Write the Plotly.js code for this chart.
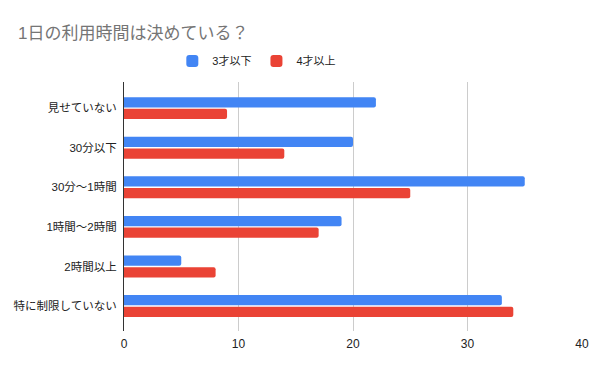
<!DOCTYPE html>
<html>
<head>
<meta charset="utf-8">
<script src="https://cdn.plot.ly/plotly-3.0.1.min.js"></script>
<style>html,body{margin:0;padding:0;background:#fff;}#chart{width:600px;height:371px;}</style>
</head>
<body>
<div id="chart"></div>
<script>
const categories = ["見せていない", "30分以下", "30分～1時間", "1時間～2時間", "2時間以上", "特に制限していない"];
const seriesNames = ["3才以下", "4才以上"];
const under3 = [22, 20, 35, 19, 5, 33];
const over4 = [9, 14, 25, 17, 8, 34];
const xTicks = [0, 10, 20, 30, 40];

const FONT = "Arial, 'Liberation Sans', 'Noto Sans CJK JP', sans-serif";

const traces = [
  {type: "bar", orientation: "h", name: seriesNames[0], y: categories, x: under3,
   marker: {color: "#4285F4", cornerradius: 2}, hoverinfo: "x+name"},
  {type: "bar", orientation: "h", name: seriesNames[1], y: categories, x: over4,
   marker: {color: "#EA4335", cornerradius: 2}, hoverinfo: "x+name"}
];

const layout = {
  width: 600, height: 371,
  paper_bgcolor: "#fff", plot_bgcolor: "#fff",
  font: {family: FONT, size: 12, color: "#222"},
  margin: {l: 124, r: 18, t: 82, b: 40},
  title: {text: "1日の利用時間は決めている？", xref: "container", x: 18 / 600, xanchor: "left",
          yref: "container", y: 1 - 33 / 371, yanchor: "middle",
          font: {family: FONT, size: 17, color: "#757575"}},
  showlegend: true,
  legend: {orientation: "h", x: 0.29, xanchor: "center", y: 1.084, yanchor: "middle",
           font: {family: FONT, size: 11, color: "#222"}, itemwidth: 30},
  barmode: "group", bargap: 0.41, bargroupgap: 0.12,
  xaxis: {range: [0, 40], tickvals: xTicks, showgrid: true, gridcolor: "#cccccc",
          zeroline: false, showline: false, ticks: "", fixedrange: true,
          ticklabelstandoff: 4,
          tickfont: {family: FONT, size: 12, color: "#222"}},
  yaxis: {type: "category", range: [5.63, -0.66], showline: true, linecolor: "#333",
          linewidth: 1, showgrid: false, ticks: "", ticklabelstandoff: 4,
          tickfont: {family: FONT, size: 11.5, color: "#222"}}
};

Plotly.newPlot("chart", traces, layout, {displayModeBar: false, staticPlot: true});
</script>
</body>
</html>
